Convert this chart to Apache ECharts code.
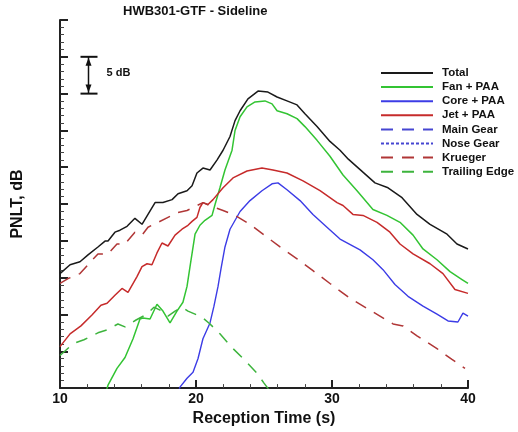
<!DOCTYPE html>
<html>
<head>
<meta charset="utf-8">
<script src="https://cdn.jsdelivr.net/npm/echarts@6/dist/echarts.min.js"></script>
<style>html,body{margin:0;padding:0;background:#fff;}#c{width:518px;height:432px;}</style>
</head>
<body>
<div id="c"></div>
<script>
const xTicks = [10, 20, 30, 40];
const seriesNames = ['Total','Fan + PAA','Core + PAA','Jet + PAA','Main Gear','Nose Gear','Krueger','Trailing Edge'];

const totalT = [10,10.74,11.47,12.06,12.79,13.31,13.53,14.04,14.41,14.93,15.51,16.03,16.47,16.99,17.57,18.24,18.68,19.34,19.71,20.07,20.51,21.03,21.54,21.99,22.5,22.87,23.24,23.82,24.56,25.29,25.96,26.69,27.43,28.01,28.9,29.85,30.59,31.2,33.16,34.12,35.15,36.25,37.21,38.46,39.19,40];
const totalV = [15.55,16.76,17.16,18.1,19.17,19.97,19.97,21.18,21.45,21.98,23.06,22.25,23.59,25.2,25.2,25.6,26.41,26.81,27.48,29.22,29.89,29.62,30.97,32.31,34.18,36.33,37.67,39.28,40.35,40.21,39.54,39.01,38.47,37.27,35.52,33.51,32.31,31.1,27.88,27.21,25.87,23.59,22.25,20.91,19.57,18.9];

const fanT = [13.38,13.53,14.19,14.78,15.37,15.88,16.1,16.62,17.13,17.57,18.09,18.6,19.04,19.34,19.56,19.93,20.29,20.66,21.18,21.4,21.76,22.13,22.65,22.87,23.24,23.75,24.34,25.07,25.59,25.96,26.69,27.43,28.01,28.9,29.85,30.81,31.84,33.01,34.04,35,35.96,36.69,37.72,38.68,39.56,40];
const fanV = [-0.5,0.4,2.68,4.16,6.7,9.38,9.52,9.38,11.39,10.46,8.85,10.46,11.66,13.81,16.49,20.91,22.12,22.79,23.46,24.93,27.21,29.62,32.31,34.99,36.86,38.2,38.87,39.01,38.61,37.67,37.27,36.6,35.52,33.65,31.5,28.95,26.81,24.26,23.46,22.52,20.78,18.9,17.43,15.82,14.75,14.21];

const coreT = [18.7,18.82,19.34,19.78,20.15,20.51,21.03,21.32,21.62,21.84,22.13,22.5,23.24,23.97,24.85,25.59,26.03,26.69,27.65,28.6,29.63,30.59,32.06,33.01,33.75,34.63,35.59,36.69,37.72,38.53,39.26,39.63,40];
const coreV = [-0.6,0.13,1.34,2.14,4.02,6.7,8.85,11.13,13.81,16.22,19.17,21.58,23.99,25.47,26.81,27.75,27.88,26.94,25.47,23.59,21.85,20.24,18.77,17.43,16.09,14.08,12.47,11.13,10.05,9.12,8.98,10.19,9.79];

const jetT = [10,10.74,11.54,12.35,13.01,13.46,14.04,14.56,15,15.66,16.03,16.4,16.76,17.13,17.5,17.94,18.46,18.97,19.41,19.71,20.07,20.29,20.51,20.88,21.25,21.99,22.72,23.75,24.85,25.66,26.69,27.87,29.12,30.37,30.81,31.54,32.28,33.31,34.26,35,35.96,37.21,38.16,39.04,40];
const jetV = [5.63,7.37,8.45,9.92,11.26,11.53,12.6,13.54,13,15.15,16.49,16.89,16.76,18.36,19.71,19.3,20.78,21.58,22.12,22.65,23.19,24.53,25.2,24.93,25.6,27.21,28.55,29.49,29.89,29.62,29.22,28.15,26.81,25.2,24.8,23.59,23.46,22.52,21.18,19.57,18.23,16.89,15.55,13.4,12.87];

const mainGearT = [];
const mainGearV = [];
const noseGearT = [];
const noseGearV = [];

const kruT = [10,10.59,11.47,12.06,12.79,13.53,14.19,14.78,15.51,16.03,16.47,17.21,17.94,18.68,19.34,19.93,20.51,21.18,21.99,22.87,23.97,25.22,26.18,27.43,28.6,29.85,31.32,32.79,34.49,35.22,36.25,37.72,38.82,39.78];
const kruV = [14.21,14.88,15.55,16.76,18.23,18.23,19.57,19.57,21.18,20.78,21.85,22.52,23.19,23.86,24.13,24.66,25.2,24.66,24.13,23.46,22.25,20.51,19.17,17.56,15.95,14.21,12.2,10.59,8.71,8.45,7.1,5.36,3.89,2.68];

const teT = [10,10.96,11.76,12.79,13.46,14.26,14.78,15.59,16.4,16.91,17.5,17.94,18.46,18.97,19.41,19.93,20.51,21.03,21.76,22.65,23.46,24.49,25,25.44];
const teV = [4.42,6.03,6.57,7.51,7.91,8.71,8.31,9.25,10.05,10.99,10.46,9.79,10.46,10.99,10.46,10.05,9.52,8.71,7.37,5.5,4.02,2.01,0.67,-0.4];

const FONT = '"Liberation Sans", Arial, Helvetica, sans-serif';

function pairs(t, v) { return t.map((x, i) => [x, v[i]]); }
function mk(name, t, v, color, type, width) {
  return {
    name: name, type: 'line', data: pairs(t, v),
    symbol: 'none', showSymbol: false, clip: true, smooth: false,
    lineStyle: { color: color, width: width || 1.4, type: type || 'solid' },
    itemStyle: { color: color },
    emphasis: { disabled: true }, silent: true, animation: false
  };
}

const chart = echarts.init(document.getElementById('c'), null, { renderer: 'canvas' });
const option = {
  animation: false,
  backgroundColor: '#ffffff',
  title: {
    text: 'HWB301-GTF - Sideline', left: 123, top: 5, padding: 0,
    textStyle: { fontFamily: FONT, fontSize: 13, fontWeight: 'bold', color: '#111' }
  },
  grid: { left: 60, right: 50, top: 20, bottom: 39, containLabel: false },
  legend: {
    orient: 'vertical', left: 380, top: 66, padding: 0,
    itemWidth: 52, itemHeight: 14, itemGap: 0.1,
    data: seriesNames,
    itemStyle: { opacity: 0 },
    textStyle: { fontFamily: FONT, fontSize: 11.5, fontWeight: 'bold', color: '#111', lineHeight: 14, padding: [0, 0, 0, 4] },
    selectedMode: false
  },
  xAxis: {
    type: 'value', min: xTicks[0], max: xTicks[xTicks.length - 1], interval: 10,
    name: 'Reception Time (s)', nameLocation: 'middle', nameGap: 17,
    nameTextStyle: { fontFamily: FONT, fontSize: 16, fontWeight: 'bold', color: '#111' },
    axisLine: { show: true, lineStyle: { color: '#222', width: 2 } },
    axisTick: { show: true, inside: true, length: 8, lineStyle: { color: '#222', width: 2 } },
    minorTick: { show: true, splitNumber: 5, length: 4, lineStyle: { color: '#444', width: 1 } },
    axisLabel: { fontFamily: FONT, fontSize: 14, fontWeight: 'bold', color: '#111', margin: 4 },
    splitLine: { show: false }
  },
  yAxis: {
    type: 'value', min: 0, max: 50, interval: 5,
    name: 'PNLT, dB', nameLocation: 'middle', nameGap: 34,
    nameTextStyle: { fontFamily: FONT, fontSize: 16, fontWeight: 'bold', color: '#111' },
    axisLine: { show: true, lineStyle: { color: '#222', width: 2 } },
    axisTick: { show: true, inside: true, length: 8, lineStyle: { color: '#222', width: 2 } },
    minorTick: { show: true, splitNumber: 5, length: 4, lineStyle: { color: '#444', width: 1 } },
    axisLabel: { show: false },
    splitLine: { show: false }
  },
  series: [
    mk('Total', totalT, totalV, '#1a1a1a', 'solid', 1.5),
    mk('Fan + PAA', fanT, fanV, '#33c433', 'solid', 1.5),
    mk('Core + PAA', coreT, coreV, '#3c3ce6', 'solid', 1.4),
    mk('Jet + PAA', jetT, jetV, '#c62b2b', 'solid', 1.5),
    mk('Main Gear', mainGearT, mainGearV, '#4646d2', [12, 9], 1.5),
    mk('Nose Gear', noseGearT, noseGearV, '#4646d2', [3, 2], 1.5),
    mk('Krueger', kruT, kruV, '#b03636', [12, 9], 1.5),
    mk('Trailing Edge', teT, teV, '#3db43d', [12, 9], 1.5)
  ]
};
chart.setOption(option);

// 5 dB scale bar, placed through the grid's own coordinate system
const top5 = chart.convertToPixel({ gridIndex: 0 }, [12.06, 45]);
const bot5 = chart.convertToPixel({ gridIndex: 0 }, [12.06, 40]);
const bx = Math.round(top5[0]) + 0.5, ty = top5[1], by = bot5[1];
chart.setOption({
  graphic: [
    { type: 'line', shape: { x1: bx, y1: ty, x2: bx, y2: by }, style: { stroke: '#111', lineWidth: 1.5 } },
    { type: 'line', shape: { x1: bx - 8, y1: ty, x2: bx + 9, y2: ty }, style: { stroke: '#111', lineWidth: 2 } },
    { type: 'line', shape: { x1: bx - 8, y1: by, x2: bx + 9, y2: by }, style: { stroke: '#111', lineWidth: 2 } },
    { type: 'polygon', shape: { points: [[bx, ty + 1], [bx - 3, ty + 9], [bx + 3, ty + 9]] }, style: { fill: '#111' } },
    { type: 'polygon', shape: { points: [[bx, by - 1], [bx - 3, by - 9], [bx + 3, by - 9]] }, style: { fill: '#111' } },
    { type: 'text', x: bx + 18, y: (ty + by) / 2 - 2, style: { text: '5 dB', font: 'bold 11px ' + FONT, fill: '#111', verticalAlign: 'middle', align: 'left' } }
  ]
});
</script>
</body>
</html>
